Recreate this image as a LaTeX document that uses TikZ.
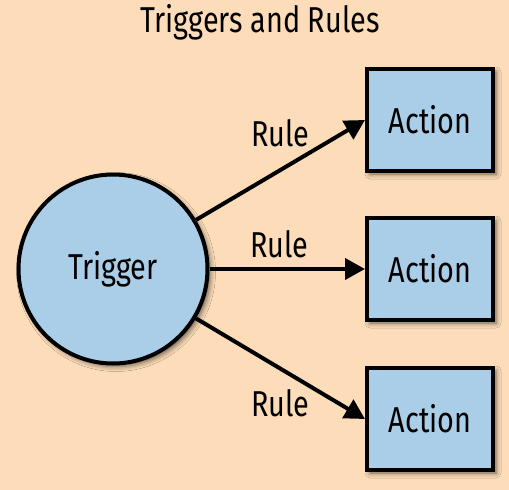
\documentclass[tikz,border=0pt]{standalone}
\usepackage{fontspec}
\setmainfont[FakeStretch=0.8]{Fira Sans}
\usetikzlibrary{arrows.meta,positioning,shadows.blur}

\definecolor{bgpeach}{RGB}{253,221,185}
\definecolor{nodeblue}{RGB}{170,206,231}

\begin{document}
\begin{tikzpicture}[
    x=1pt, y=-1pt,
    shd/.style={blur shadow={shadow xshift=3pt, shadow yshift=-3pt, shadow blur radius=5pt, shadow opacity=60}},
    trig/.style={circle, draw, line width=4pt, fill=nodeblue, minimum size=189pt, inner sep=0pt, font=\fontsize{36}{40}\selectfont, shd},
    act/.style={draw, line width=4pt, fill=nodeblue, minimum width=126pt, minimum height=102pt, inner sep=0pt, font=\fontsize{36}{40}\selectfont, shd},
    arr/.style={-{Triangle[length=20pt, width=21pt]}, line width=4pt},
    lbl/.style={font=\fontsize{36}{40}\selectfont}
]
\fill[bgpeach] (0,0) rectangle (509,490);
\useasboundingbox (0,0) rectangle (509,490);

\node[anchor=base, font=\fontsize{36}{40}\selectfont] (title) at (260,32) {Triggers and Rules};

\node[trig] (trigger) at (113,269) {Trigger};
\node[act] (act1) at (430,120) {Action};
\node[act] (act2) at (430,269) {Action};
\node[act] (act3) at (430,419) {Action};

\draw[arr] (trigger) -- node[lbl, midway, above=18pt] {Rule} (act1.west);
\draw[arr] (trigger) -- node[lbl, pos=0.45, above=6pt] {Rule} (act2.west);
\draw[arr] (trigger) -- node[lbl, midway, below=15pt] {Rule} (act3.west);
\end{tikzpicture}
\end{document}
